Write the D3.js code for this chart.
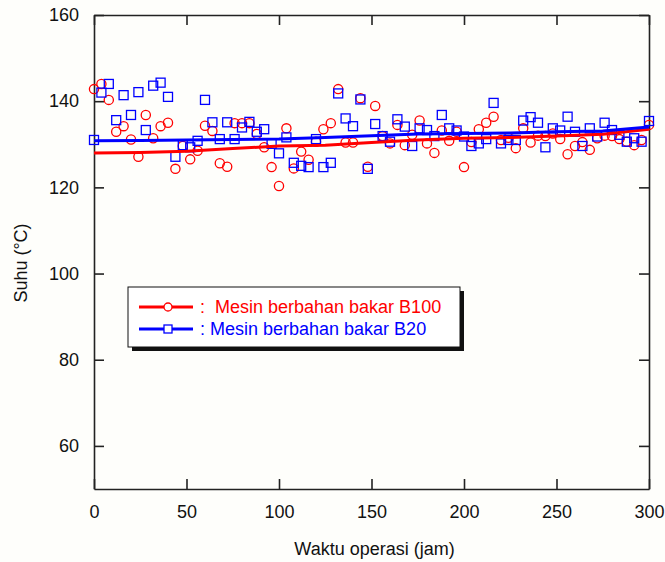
<!DOCTYPE html>
<html>
<head>
<meta charset="utf-8">
<script src="https://cdn.jsdelivr.net/npm/d3@7"></script>
<style>
  body { margin: 0; background: #fefefb; }
  text { font-family: "Liberation Sans", Arial, sans-serif; }
</style>
</head>
<body>
<div id="chart"></div>
<script>

// Data

// operating time (hours), one sample every 4 hours
const hours = [0, 4, 8, 12, 16, 20, 24, 28, 32, 36, 40, 44, 48, 52, 56, 60, 64, 68, 72, 76,
  80, 84, 88, 92, 96, 100, 104, 108, 112, 116, 120, 124, 128, 132, 136, 140, 144, 148, 152, 156,
  160, 164, 168, 172, 176, 180, 184, 188, 192, 196, 200, 204, 208, 212, 216, 220, 224, 228, 232, 236,
  240, 244, 248, 252, 256, 260, 264, 268, 272, 276, 280, 284, 288, 292, 296, 300];

// temperature, engine on B100
const tempB100 = [142.8, 144.0, 140.3, 132.9, 134.2, 131.1, 127.1, 136.8, 131.4, 134.2, 135.0, 124.3, 129.6, 126.5, 128.5, 134.3, 133.1, 125.6, 124.8, 134.9,
  134.9, 134.9, 132.4, 129.3, 124.7, 120.3, 133.7, 124.4, 128.3, 126.4, 130.6, 133.5, 134.9, 142.8, 130.4, 130.4, 140.7, 124.8, 138.9, 131.9,
  130.2, 134.5, 129.8, 132.2, 135.5, 130.2, 128.0, 133.2, 130.8, 132.9, 124.7, 130.5, 133.5, 135.0, 136.4, 131.0, 131.5, 129.1, 133.7, 130.4,
  132.0, 131.9, 132.5, 131.2, 127.7, 129.6, 130.5, 128.7, 131.4, 132.0, 131.9, 131.2, 130.6, 129.8, 131.0, 134.5];

// temperature, engine on B20
const tempB20 = [131.0, 142.0, 144.0, 135.6, 141.4, 136.8, 142.1, 133.3, 143.6, 144.3, 141.0, 127.1, 129.8, 129.3, 130.8, 140.3, 135.1, 131.2, 135.1, 131.2,
  133.9, 135.2, 132.9, 133.5, 130.1, 127.9, 131.6, 125.7, 125.0, 124.7, 131.2, 124.7, 125.7, 141.8, 136.0, 134.2, 140.4, 124.3, 134.7, 131.9,
  130.6, 135.8, 134.1, 129.6, 133.7, 133.3, 131.9, 136.8, 133.7, 133.2, 131.8, 129.6, 130.2, 131.2, 139.6, 130.2, 131.0, 131.0, 135.5, 136.3,
  135.0, 129.3, 133.7, 133.2, 136.4, 132.9, 129.6, 133.7, 131.8, 135.0, 133.3, 132.2, 130.6, 131.4, 130.6, 135.4];

// trend lines
const trendHours = [0, 25, 50, 75, 100, 125, 150, 175, 200, 225, 250, 275, 300];
const trendB100 = [128.0, 128.1, 128.4, 129.0, 129.6, 129.8, 130.4, 131.0, 131.4, 131.6, 131.9, 132.3, 133.5];
const trendB20 = [130.8, 130.9, 131.0, 131.1, 131.2, 131.6, 132.0, 132.4, 132.5, 132.6, 132.9, 133.1, 134.0];

// ticks and labels
const xTicks = [0, 50, 100, 150, 200, 250, 300];
const yTicks = [60, 80, 100, 120, 140, 160];
const seriesNames = [":  Mesin berbahan bakar B100", ": Mesin berbahan bakar B20"];

// Set dimensions and margins
const width = 665;
const height = 562;
const margin = {left: 94, right: 16, top: 15, bottom: 73};
const red = "#ff0000";
const blue = "#0000ff";

const svg = d3.select("#chart")
  .append("svg")
  .attr("width", width)
  .attr("height", height);

// scales
const xScale = d3.scaleLinear()
  .domain([0, 300])
  .range([margin.left, width - margin.right]);

const yScale = d3.scaleLinear()
  .domain([50, 160])
  .range([height - margin.bottom, margin.top]);

/*

  Axes

*/

// left axis with labels, ticks point inside
svg.append("g")
  .attr("transform", `translate(${margin.left},0)`)
  .call(d3.axisLeft(yScale).tickValues(yTicks).tickSizeInner(-10).tickSizeOuter(0).tickPadding(15))
  .attr("font-size", "18px");

// bottom axis with labels
svg.append("g")
  .attr("transform", `translate(0,${height - margin.bottom})`)
  .call(d3.axisBottom(xScale).tickValues(xTicks).tickSizeInner(-10).tickSizeOuter(0).tickPadding(16))
  .attr("font-size", "18px");

// mirrored ticks on top and right
svg.append("g")
  .attr("transform", `translate(0,${margin.top})`)
  .call(d3.axisTop(xScale).tickValues(xTicks).tickSizeInner(-10).tickSizeOuter(0).tickFormat(""));

svg.append("g")
  .attr("transform", `translate(${width - margin.right},0)`)
  .call(d3.axisRight(yScale).tickValues(yTicks).tickSizeInner(-10).tickSizeOuter(0).tickFormat(""));

svg.selectAll(".domain, .tick line")
  .attr("stroke", "#222")
  .attr("stroke-width", 1.6);
svg.selectAll(".tick text").attr("fill", "#111");

// axis titles
svg.append("text")
  .attr("x", (margin.left + width - margin.right) / 2 + 3)
  .attr("y", 555)
  .attr("text-anchor", "middle")
  .attr("font-size", "18px")
  .attr("fill", "#111")
  .text("Waktu operasi (jam)");

svg.append("text")
  .attr("transform", "translate(27,263) rotate(-90)")
  .attr("text-anchor", "middle")
  .attr("font-size", "18px")
  .attr("fill", "#111")
  .text("Suhu (°C)");

/*

  Points and trend lines

*/

// B100 circles
svg.selectAll(".b100")
  .data(hours)
  .enter()
  .append("circle")
    .attr("class", "b100")
    .attr("cx", d => xScale(d))
    .attr("cy", (d, i) => yScale(tempB100[i]))
    .attr("r", 4.6)
    .attr("fill", "none")
    .attr("stroke", red)
    .attr("stroke-width", 1.3);

// B20 squares
const sq = 9;
svg.selectAll(".b20")
  .data(hours)
  .enter()
  .append("rect")
    .attr("class", "b20")
    .attr("x", d => xScale(d) - sq / 2)
    .attr("y", (d, i) => yScale(tempB20[i]) - sq / 2)
    .attr("width", sq)
    .attr("height", sq)
    .attr("fill", "none")
    .attr("stroke", blue)
    .attr("stroke-width", 1.3);

const trendLine = (vals) => d3.line()
  .x(d => xScale(d))
  .y((d, i) => yScale(vals[i]))(trendHours);

svg.append("path")
  .attr("d", trendLine(trendB100))
  .attr("fill", "none")
  .attr("stroke", red)
  .attr("stroke-width", 3);

svg.append("path")
  .attr("d", trendLine(trendB20))
  .attr("fill", "none")
  .attr("stroke", blue)
  .attr("stroke-width", 3);

/*

  Legend

*/

const legend = svg.append("g").attr("transform", "translate(128,287)");

legend.append("rect")
  .attr("x", 4).attr("y", 4)
  .attr("width", 332).attr("height", 60)
  .attr("fill", "#111");

legend.append("rect")
  .attr("width", 332).attr("height", 60)
  .attr("fill", "#fff")
  .attr("stroke", "#111")
  .attr("stroke-width", 1);

const legendItems = [
  {name: seriesNames[0], color: red, shape: "circle"},
  {name: seriesNames[1], color: blue, shape: "square"}
];

legendItems.forEach((item, i) => {
  const ly = 20 + i * 22;
  legend.append("line")
    .attr("x1", 11).attr("x2", 65)
    .attr("y1", ly).attr("y2", ly)
    .attr("stroke", item.color)
    .attr("stroke-width", 3);
  if (item.shape === "circle") {
    legend.append("circle")
      .attr("cx", 40).attr("cy", ly).attr("r", 4)
      .attr("fill", "#fff").attr("stroke", item.color).attr("stroke-width", 1.3);
  } else {
    legend.append("rect")
      .attr("x", 36).attr("y", ly - 4).attr("width", 8).attr("height", 8)
      .attr("fill", "#fff").attr("stroke", item.color).attr("stroke-width", 1.3);
  }
  legend.append("text")
    .attr("x", 72).attr("y", ly + 6)
    .attr("font-size", "18px")
    .attr("fill", item.color)
    .style("white-space", "pre")
    .text(item.name);
});

</script>
</body>
</html>
